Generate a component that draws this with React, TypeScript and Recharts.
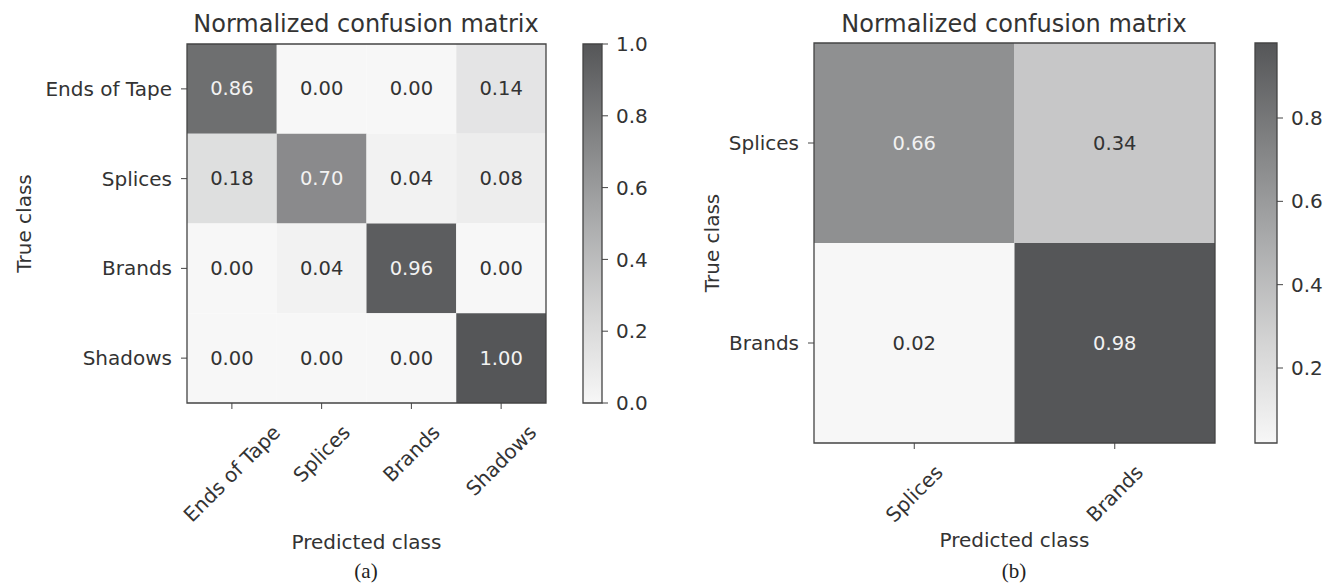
import React from "react";
import { ScatterChart, Scatter, XAxis, YAxis, ReferenceArea, Label } from "recharts";

// (a) four-class model
const CLASSES_A = ["Ends of Tape", "Splices", "Brands", "Shadows"];
const MATRIX_A = [
  [0.86, 0.0, 0.0, 0.14],
  [0.18, 0.7, 0.04, 0.08],
  [0.0, 0.04, 0.96, 0.0],
  [0.0, 0.0, 0.0, 1.0],
];
const CBAR_TICKS_A = [0, 0.2, 0.4, 0.6, 0.8, 1.0];

// (b) two-class model
const CLASSES_B = ["Splices", "Brands"];
const MATRIX_B = [
  [0.66, 0.34],
  [0.02, 0.98],
];
const CBAR_TICKS_B = [0.2, 0.4, 0.6, 0.8];

const FONT = "'DejaVu Sans', sans-serif";
const INK = "#333";
const FRAME = "#444";
const LIGHT = [247, 247, 247];
const DARK = [85, 86, 88];
const FS = 20; // tick / axis label size
const CELL_FS = 19.5;

function grey(v: number, lo: number, hi: number) {
  const t = Math.pow(Math.max(0, Math.min(1, (v - lo) / (hi - lo))), 1.1);
  const c = LIGHT.map((l, i) => Math.round(l + (DARK[i] - l) * t));
  return `rgb(${c[0]},${c[1]},${c[2]})`;
}

function toCells(m: number[][]) {
  const out: { x: number; y: number; value: number }[] = [];
  m.forEach((row, r) => row.forEach((v, c) => out.push({ x: c, y: r, value: v })));
  return out;
}

function range(m: number[][]) {
  const all = m.flat();
  return { lo: Math.min(...all), hi: Math.max(...all) };
}

let ctx: CanvasRenderingContext2D | null = null;
function textWidth(s: string) {
  if (!ctx) ctx = document.createElement("canvas").getContext("2d");
  if (!ctx) return s.length * FS * 0.6;
  ctx.font = `${FS}px 'DejaVu Sans'`;
  return ctx.measureText(s).width;
}

// matplotlib style: rotated 45deg, bbox centred on the tick
function RotatedTick(props: any) {
  const { x, y, payload, classes } = props;
  const name = classes[payload.value];
  const half = (textWidth(name) + FS * 1.1) / Math.SQRT2 / 2;
  return (
    <g transform={`translate(${x},${y + 10 + half}) rotate(-45)`}>
      <text textAnchor="middle" dominantBaseline="central" fill={INK} fontSize={FS} fontFamily={FONT}>
        {name}
      </text>
    </g>
  );
}

type MatrixProps = {
  classes: string[];
  matrix: number[][];
  width: number;
  height: number;
  margin: { top: number; right: number; bottom: number; left: number };
  yAxisWidth: number;
  xAxisHeight: number;
  xLabelDy: number;
  yLabelX: number;
};

function Matrix({ classes, matrix, width, height, margin, yAxisWidth, xAxisHeight, xLabelDy, yLabelX }: MatrixProps) {
  const cells = toCells(matrix);
  const { lo, hi } = range(matrix);
  const n = classes.length;
  const idx = classes.map((_, i) => i);
  const thresh = hi / 2;

  return (
    <ScatterChart width={width} height={height} margin={margin}>
      <XAxis
        type="number"
        dataKey="x"
        domain={[-0.5, n - 0.5]}
        ticks={idx}
        interval={0}
        allowDataOverflow
        height={xAxisHeight}
        axisLine={false}
        tickSize={6}
        tickLine={{ stroke: FRAME }}
        tick={<RotatedTick classes={classes} />}
      >
        <Label
          content={(p: any) => (
            <text
              x={p.viewBox.x + p.viewBox.width / 2}
              y={p.viewBox.y + xLabelDy}
              textAnchor="middle"
              fill={INK}
              fontSize={FS}
              fontFamily={FONT}
            >
              Predicted class
            </text>
          )}
        />
      </XAxis>
      <YAxis
        type="number"
        dataKey="y"
        domain={[-0.5, n - 0.5]}
        reversed
        ticks={idx}
        interval={0}
        allowDataOverflow
        width={yAxisWidth}
        axisLine={false}
        tickSize={6}
        tickMargin={9}
        tickLine={{ stroke: FRAME }}
        tickFormatter={(v: number) => classes[v]}
        tick={{ fill: INK, fontSize: FS, fontFamily: FONT }}
      >
        <Label
          content={(p: any) => {
            const cy = p.viewBox.y + p.viewBox.height / 2;
            return (
              <text
                x={yLabelX}
                y={cy}
                transform={`rotate(-90, ${yLabelX}, ${cy})`}
                textAnchor="middle"
                dominantBaseline="central"
                fill={INK}
                fontSize={FS}
                fontFamily={FONT}
              >
                True class
              </text>
            );
          }}
        />
      </YAxis>
      {cells.map((c) => (
        <ReferenceArea
          key={`${c.x}-${c.y}`}
          x1={c.x - 0.5}
          x2={c.x + 0.5}
          y1={c.y - 0.5}
          y2={c.y + 0.5}
          fill={grey(c.value, lo, hi)}
          fillOpacity={1}
          stroke="none"
        />
      ))}
      <ReferenceArea x1={-0.5} x2={n - 0.5} y1={-0.5} y2={n - 0.5} fill="none" stroke={FRAME} strokeWidth={1.3} />
      <Scatter
        data={cells}
        isAnimationActive={false}
        shape={(p: any) => (
          <text
            x={p.cx}
            y={p.cy}
            textAnchor="middle"
            dominantBaseline="central"
            fill={p.payload.value > thresh ? "#f2f2f2" : INK}
            fontSize={CELL_FS}
            fontFamily={FONT}
          >
            {p.payload.value.toFixed(2)}
          </text>
        )}
      />
    </ScatterChart>
  );
}

type BarProps = {
  id: string;
  matrix: number[][];
  ticks: number[];
  width: number;
  height: number;
  margin: { top: number; right: number; bottom: number; left: number };
  axisWidth: number;
};

function ColorBar({ id, matrix, ticks, width, height, margin, axisWidth }: BarProps) {
  const { lo, hi } = range(matrix);
  return (
    <ScatterChart width={width} height={height} margin={margin}>
      <defs>
        <linearGradient id={id} x1="0" y1="0" x2="0" y2="1">
          {[0, 0.25, 0.5, 0.75, 1].map((o) => (
            <stop key={o} offset={o} stopColor={grey(hi - (hi - lo) * o, lo, hi)} />
          ))}
        </linearGradient>
      </defs>
      <XAxis type="number" dataKey="x" domain={[0, 1]} allowDataOverflow hide />
      <YAxis
        type="number"
        dataKey="y"
        orientation="right"
        domain={[lo, hi]}
        allowDataOverflow
        ticks={ticks}
        interval={0}
        width={axisWidth}
        axisLine={false}
        tickSize={6}
        tickMargin={8}
        tickLine={{ stroke: FRAME }}
        tickFormatter={(v: number) => v.toFixed(1)}
        tick={{ fill: INK, fontSize: FS, fontFamily: FONT, textAnchor: "start" }}
      />
      <ReferenceArea x1={0} x2={1} y1={lo} y2={hi} fill={`url(#${id})`} fillOpacity={1} stroke={FRAME} strokeWidth={1.3} />
    </ScatterChart>
  );
}

const titleStyle: React.CSSProperties = {
  position: "absolute",
  top: 12,
  width: 420,
  textAlign: "center",
  fontFamily: FONT,
  fontSize: 24,
  lineHeight: "24px",
  color: INK,
  whiteSpace: "nowrap",
};

const captionStyle: React.CSSProperties = {
  position: "absolute",
  top: 561,
  width: 60,
  textAlign: "center",
  fontFamily: "'Liberation Serif', 'DejaVu Serif', serif",
  fontSize: 21,
  lineHeight: "21px",
  color: "#222",
};

export default function App() {
  return (
    <div
      style={{
        position: "absolute",
        left: 0,
        top: 0,
        width: 1324,
        height: 585,
        background: "#fff",
        overflow: "hidden",
      }}
    >
      <div style={{ position: "absolute", left: 0, top: 0 }}>
        <Matrix
          classes={CLASSES_A}
          matrix={MATRIX_A}
          width={560}
          height={585}
          margin={{ top: 44, right: 14, bottom: 32, left: 0 }}
          yAxisWidth={187}
          xAxisHeight={150}
          xLabelDy={146}
          yLabelX={24}
        />
      </div>
      <div style={{ position: "absolute", left: 560, top: 0 }}>
        <ColorBar
          id="cbarA"
          matrix={MATRIX_A}
          ticks={CBAR_TICKS_A}
          width={120}
          height={585}
          margin={{ top: 44, right: 0, bottom: 182, left: 23 }}
          axisWidth={78}
        />
      </div>
      <div style={{ position: "absolute", left: 680, top: 0 }}>
        <Matrix
          classes={CLASSES_B}
          matrix={MATRIX_B}
          width={560}
          height={585}
          margin={{ top: 43, right: 25, bottom: 42, left: 0 }}
          yAxisWidth={134}
          xAxisHeight={100}
          xLabelDy={104}
          yLabelX={32}
        />
      </div>
      <div style={{ position: "absolute", left: 1240, top: 0 }}>
        <ColorBar
          id="cbarB"
          matrix={MATRIX_B}
          ticks={CBAR_TICKS_B}
          width={84}
          height={585}
          margin={{ top: 43, right: 0, bottom: 142, left: 15 }}
          axisWidth={47}
        />
      </div>

      <div style={{ ...titleStyle, left: 366 - 210 }}>Normalized confusion matrix</div>
      <div style={{ ...titleStyle, left: 1014 - 210 }}>Normalized confusion matrix</div>
      <div style={{ ...captionStyle, left: 366 - 30 }}>(a)</div>
      <div style={{ ...captionStyle, left: 1014 - 30 }}>(b)</div>
    </div>
  );
}
